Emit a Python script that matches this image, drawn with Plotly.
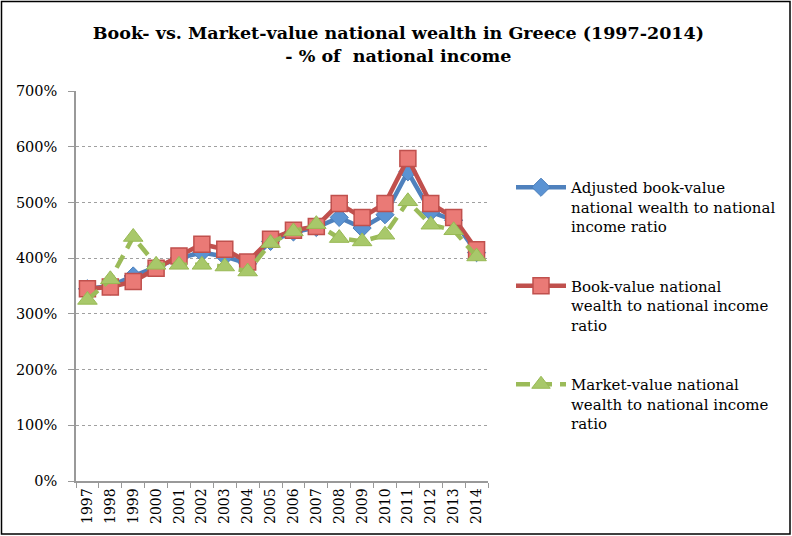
import plotly.graph_objects as go

years = [str(y) for y in range(1997, 2015)]
adjusted_book = [345, 350, 368, 385, 400, 410, 403, 390, 430, 447, 455, 473, 454, 478, 555, 483, 468, 410]
book_value = [345, 348, 358, 382, 404, 425, 416, 393, 434, 450, 457, 498, 473, 498, 579, 498, 473, 415]
market_value = [325, 362, 438, 388, 388, 388, 385, 376, 427, 448, 461, 436, 430, 442, 502, 460, 450, 403]

names = [
    "Adjusted book-value<br>national wealth to national<br>income ratio",
    "Book-value national<br>wealth to national income<br>ratio",
    "Market-value national<br>wealth to national income<br>ratio",
]

W, H = 792, 536
ML, MR, MT, MB = 76, 304, 91, 55

fig = go.Figure()
fig.add_trace(go.Scatter(
    x=years, y=adjusted_book, name=names[0], mode="lines+markers", legendgroup="a",
    line=dict(color="#4F81BD", width=4.5),
    marker=dict(symbol="diamond", size=14, color="#5B93D3", line=dict(color="#4A7EBB", width=1)),
))
fig.add_trace(go.Scatter(
    x=years, y=book_value, name=names[1], mode="lines+markers", legendgroup="b",
    line=dict(color="#C0504D", width=4.5),
    marker=dict(symbol="square", size=16, color="#EA7A76", line=dict(color="#C0504D", width=1.5)),
))
fig.add_trace(go.Scatter(
    x=years, y=market_value, name=names[2], mode="lines+markers", legendgroup="c",
    line=dict(color="#9BBB59", width=4.5, dash="14px,8px"),
    marker=dict(symbol="triangle-up", size=17, color="#A8C86A", line=dict(color="#98B954", width=1)),
))

pw = W - ML - MR
ph = H - MT - MB


def px_x(p):
    return (p - ML) / pw


def px_y(p):
    return (H - MB - p) / ph


fig.add_shape(
    type="rect", xref="paper", yref="paper",
    x0=px_x(1.5), x1=px_x(790), y0=px_y(534), y1=px_y(1.5),
    line=dict(color="black", width=1.5), fillcolor="rgba(0,0,0,0)", layer="above",
)

serif = "DejaVu Serif"
fig.update_layout(
    width=W, height=H,
    margin=dict(l=ML, r=MR, t=MT, b=MB, autoexpand=False),
    paper_bgcolor="white", plot_bgcolor="white",
    font=dict(family=serif, color="black"),
    title=dict(
        text="<b>Book- vs. Market-value national wealth in Greece (1997-2014)<br>- % of  national income</b>",
        x=0.503, xanchor="center", xref="container", y=0.927, yanchor="top",
        font=dict(size=17.5, family=serif),
    ),
    showlegend=True,
    legend=dict(
        xref="container", yref="container",
        x=511 / W, xanchor="left", y=1 - 171 / H, yanchor="top",
        font=dict(size=15, family=serif),
        traceorder="grouped", tracegroupgap=37, valign="top",
        itemwidth=50, maxheight=500,
        bgcolor="rgba(0,0,0,0)",
    ),
    xaxis=dict(
        type="category", tickangle=-90, tickfont=dict(size=14, family=serif),
        showline=True, linecolor="#999999", linewidth=1.5,
        ticks="outside", tickson="boundaries", ticklen=5, tickcolor="#999999",
        showgrid=False, range=[-0.5, 17.5],
    ),
    yaxis=dict(
        range=[0, 700], dtick=100, ticksuffix="%", tickfont=dict(size=14.5, family=serif),
        showline=True, linecolor="#999999", linewidth=1.5,
        ticks="outside", ticklen=6, tickcolor="#999999", ticklabelstandoff=8,
        showgrid=True, gridcolor="#A0A0A0", griddash="dot", gridwidth=1,
        zeroline=False,
    ),
)

fig.write_html(
    "out.html",
    config={"displayModeBar": False},
    post_script="document.body.style.margin='0';document.body.style.overflow='hidden';",
)
